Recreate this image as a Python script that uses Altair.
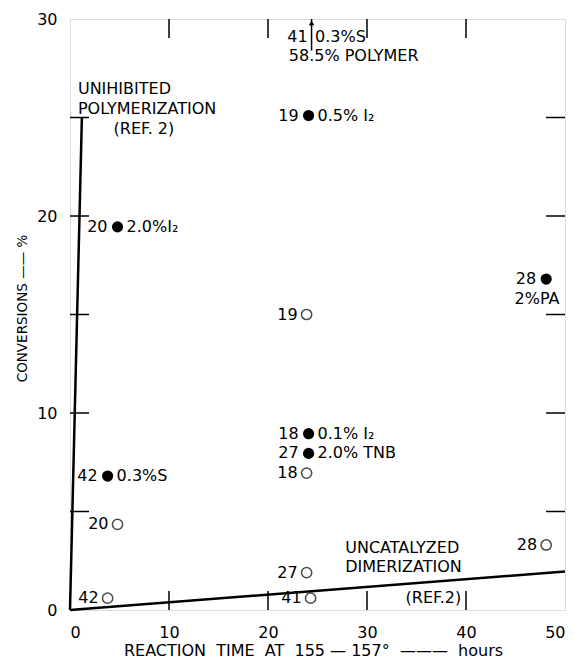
import altair as alt
import pandas as pd

FONT = "DejaVu Sans"

# ---- data ----
filled_x = [4.8, 24.1, 24.1, 24.1, 48.1, 3.8]
filled_y = [19.45, 25.1, 8.95, 7.95, 16.8, 6.8]
filled_left = ["20", "19", "18", "27", "28", "42"]
filled_right = ["2.0%I₂", "0.5% I₂", "0.1% I₂", "2.0% TNB", "", "0.3%S"]

open_x = [23.9, 48.1, 4.8, 3.8, 23.9, 23.9, 24.3]
open_y = [15.0, 3.3, 4.35, 0.6, 6.95, 1.9, 0.6]
open_left = ["19", "28", "20", "42", "18", "27", "41"]

line_group = ["poly", "poly", "dimer", "dimer"]
line_x = [0, 1.2, 0, 50]
line_y = [0, 25, 0, 1.95]

note_text = ["UNIHIBITED", "POLYMERIZATION", "(REF. 2)",
             "UNCATALYZED", "DIMERIZATION", "(REF.2)",
             "2%PA", "58.5% POLYMER", "0.3%S"]
note_x = [0.8, 0.8, 4.4, 27.8, 27.8, 33.9, 44.9, 22.1, 24.75]
note_y = [26.45, 25.43, 24.4, 3.15, 2.2, 0.6, 15.8, 28.1, 29.1]

arrow_x = [24.4, 24.4]
arrow_y = [28.4, 30.0]
arrow_label = ["41"]

inner_ticks_y = [5, 10, 15, 20, 25]
inner_ticks_x = [10, 20, 30, 40]
x_tick_labels = [0, 10, 20, 30, 40, 50]
y_tick_labels = [0, 10, 20, 30]

NB = "\u00a0"
x_title = f"REACTION{NB} TIME{NB} AT{NB} 155 — 157°{NB} ——— {NB}hours"
y_title = "CONVERSIONS —— %"

W, H = 495, 591
TL = 19

xs = alt.Scale(domain=[0, 50], nice=False, zero=False)
ys = alt.Scale(domain=[0, 30], nice=False, zero=False)

filled = pd.DataFrame({"x": filled_x, "y": filled_y, "l": filled_left, "r": filled_right})
opened = pd.DataFrame({"x": open_x, "y": open_y, "l": open_left})
lines = pd.DataFrame({"g": line_group, "x": line_x, "y": line_y})
notes = pd.DataFrame({"x": note_x, "y": note_y, "t": note_text})
arrow = pd.DataFrame({"x": arrow_x, "y": arrow_y})
arrow_top = pd.DataFrame({"x": [arrow_x[1]], "y": [arrow_y[1]], "t": arrow_label})
ty = pd.DataFrame({"v": inner_ticks_y})
tx = pd.DataFrame({"v": inner_ticks_x})

X = alt.X("x:Q", scale=xs, axis=alt.Axis(
    values=x_tick_labels, ticks=False, domain=False, grid=False,
    labelFont=FONT, labelFontSize=16, labelPadding=14, labelColor="black",
    title=x_title, titleFont=FONT, titleFontSize=16,
    titleFontWeight="normal", titleColor="black", titleX=243, titleY=45,
    titleBaseline="alphabetic", titleAlign="center", titleAnchor="start"))
Y = alt.Y("y:Q", scale=ys, axis=alt.Axis(
    values=y_tick_labels, ticks=False, domain=False, grid=False,
    labelFont=FONT, labelFontSize=16, labelPadding=13, labelColor="black",
    title=y_title, titleFont=FONT, titleFontSize=13.5,
    titleFontWeight="normal", titleColor="black", titleX=-48, titleY=289,
    titleAngle=-90, titleBaseline="middle", titleAlign="center", titleAnchor="start"))

base_lines = alt.Chart(lines).mark_line(color="black", strokeWidth=2.5).encode(
    x=X, y=Y, detail="g:N")

left_t = alt.Chart(ty).mark_rule(color="black", strokeWidth=1.5).encode(
    y=alt.Y("v:Q", scale=ys), x=alt.value(0), x2=alt.value(TL))
right_t = alt.Chart(ty).mark_rule(color="black", strokeWidth=1.5).encode(
    y=alt.Y("v:Q", scale=ys), x=alt.value(W - TL), x2=alt.value(W))
top_t = alt.Chart(tx).mark_rule(color="black", strokeWidth=1.5).encode(
    x=alt.X("v:Q", scale=xs), y=alt.value(0), y2=alt.value(TL))
bot_t = alt.Chart(tx).mark_rule(color="black", strokeWidth=1.5).encode(
    x=alt.X("v:Q", scale=xs), y=alt.value(H - TL), y2=alt.value(H))

fpts = alt.Chart(filled).mark_point(filled=True, color="black", opacity=1, size=125).encode(
    x=alt.X("x:Q", scale=xs), y=alt.Y("y:Q", scale=ys))
opts = alt.Chart(opened).mark_point(filled=False, color="black", strokeWidth=1.5, size=105).encode(
    x=alt.X("x:Q", scale=xs), y=alt.Y("y:Q", scale=ys))

txt = dict(font=FONT, fontSize=16, color="black", baseline="middle")
fl = alt.Chart(filled).mark_text(align="right", dx=-10, **txt).encode(
    x=alt.X("x:Q", scale=xs), y=alt.Y("y:Q", scale=ys), text="l:N")
fr = alt.Chart(filled).mark_text(align="left", dx=9, **txt).encode(
    x=alt.X("x:Q", scale=xs), y=alt.Y("y:Q", scale=ys), text="r:N")
ol = alt.Chart(opened).mark_text(align="right", dx=-9, **txt).encode(
    x=alt.X("x:Q", scale=xs), y=alt.Y("y:Q", scale=ys), text="l:N")
nt = alt.Chart(notes).mark_text(align="left", **txt).encode(
    x=alt.X("x:Q", scale=xs), y=alt.Y("y:Q", scale=ys), text="t:N")

arr = alt.Chart(arrow).mark_line(color="black", strokeWidth=1.5).encode(
    x=alt.X("x:Q", scale=xs), y=alt.Y("y:Q", scale=ys))
arr_head = alt.Chart(arrow_top).mark_point(shape="triangle-up", filled=True, color="black",
                                           opacity=1, size=30, yOffset=4).encode(
    x=alt.X("x:Q", scale=xs), y=alt.Y("y:Q", scale=ys))
arr_lab = alt.Chart(arrow_top).mark_text(align="right", dx=-4, **txt).encode(
    x=alt.X("x:Q", scale=xs), y=alt.value(18), text="t:N")

chart = alt.layer(base_lines, left_t, right_t, top_t, bot_t, fpts, opts,
                  fl, fr, ol, nt, arr, arr_head, arr_lab).properties(
    width=W, height=H,
    autosize=alt.AutoSizeParams(type="none"),
    padding={"left": 62, "top": 11, "right": 1, "bottom": 50},
).configure_view(stroke="black", strokeWidth=2).configure(background="white")

chart.save("out.html", embed_options={"renderer": "svg", "actions": False})
